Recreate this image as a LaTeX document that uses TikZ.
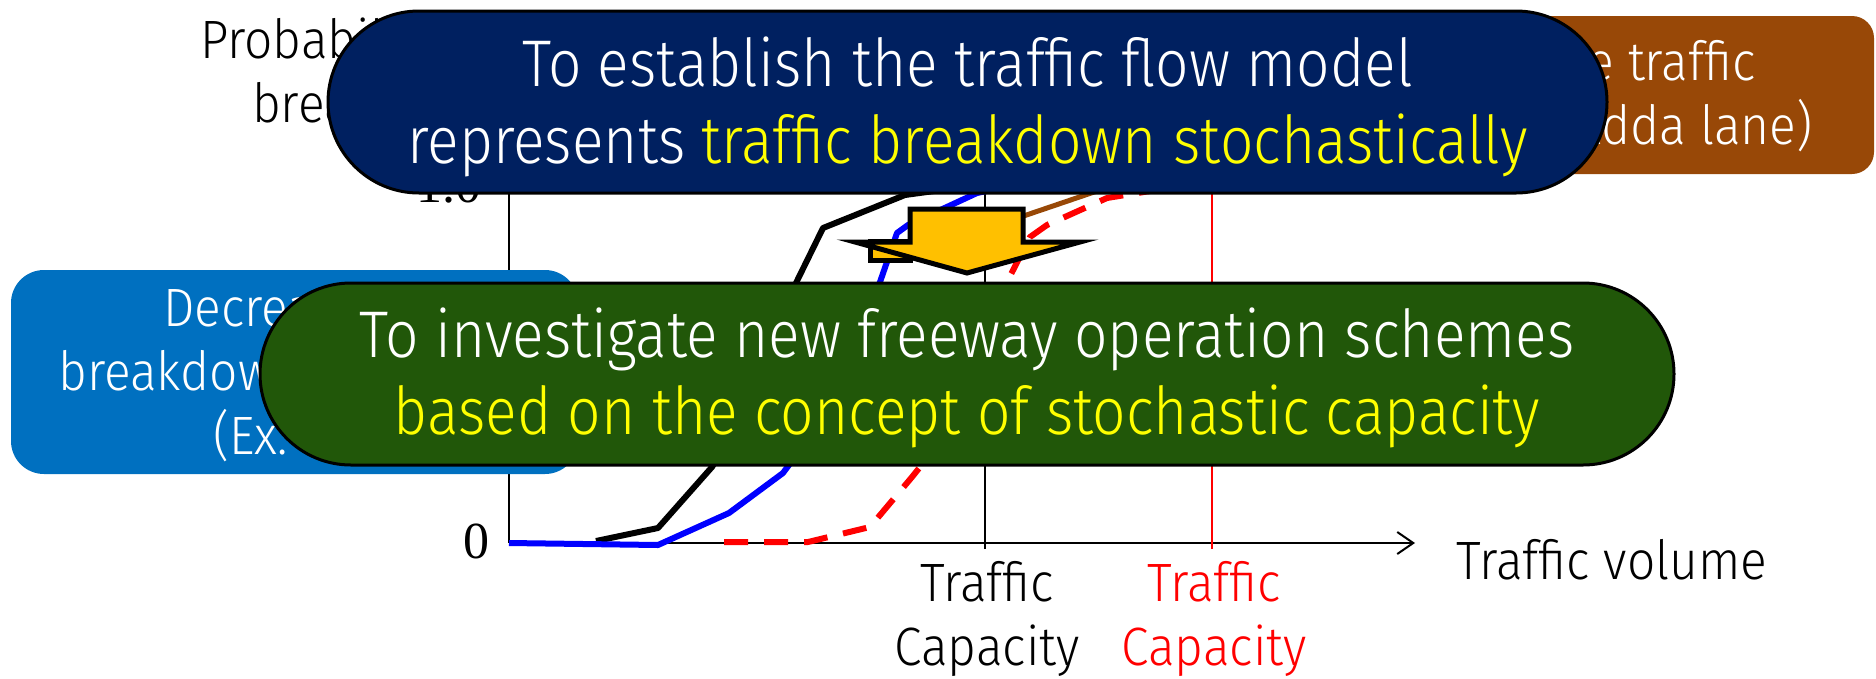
\documentclass[tikz,border=0pt]{standalone}
\usepackage{fontspec}
\setmainfont{Fira Sans Light}[FakeStretch=0.92]
\newfontfamily\bigfont{Fira Sans Light}[FakeStretch=0.89]
\newfontfamily\numfont{Liberation Serif}
\usetikzlibrary{arrows.meta}
\definecolor{navyc}{HTML}{002060}
\definecolor{greenc}{HTML}{215709}
\definecolor{lbluec}{HTML}{0070C0}
\definecolor{brownc}{HTML}{984807}
\definecolor{arrowc}{HTML}{FFC000}
\definecolor{ytxt}{HTML}{FFFF00}
\begin{document}
\begin{tikzpicture}[x=1pt,y=-1pt,
  bigtxt/.style={font=\bigfont\fontsize{66}{77}\selectfont},
  smalltxt/.style={font=\fontsize{54}{64}\selectfont},
  numtxt/.style={font=\numfont\fontsize{52}{60}\selectfont},
  pill/.style={draw=black, line width=3pt, rounded corners=91pt, inner sep=0pt,
    minimum height=182pt},
  pilltext/.style={inner sep=0pt, text=white, align=center, bigtxt},
  softbox/.style={inner sep=0pt},
  softtext/.style={inner sep=0pt, text=white, align=center, smalltxt},
  axisline/.style={line width=2pt, black},
  crv/.style={line width=6pt, line join=round},
  arrowshape/.style={fill=arrowc, draw=black, line width=5pt, line join=miter},
]
\useasboundingbox (0,0) rectangle (1876,678);
\fill[white] (0,0) rectangle (1876,678);

% axes and capacity lines
\coordinate (O) at (509,543);
\coordinate (Xe) at (1415,543);
\coordinate (Yt) at (509,120);
\draw[axisline] (O) -- (Yt);
\draw[axisline,-{Straight Barb[length=16pt,width=22pt]}] (O) -- (Xe);
\coordinate (k1b) at (985,549);
\coordinate (k1t) at (985,150);
\draw[axisline] (k1b) -- (k1t);
\coordinate (k2b) at (1212,549);
\coordinate (k2t) at (1212,150);
\draw[axisline, red] (k2b) -- (k2t);

% axis labels
\node[numtxt, anchor=base east, inner sep=0pt] (zero) at (490,558) {0};
\node[numtxt, anchor=base east, inner sep=0pt] (one) at (482,202) {1.0};
\node[smalltxt, align=right, anchor=east, inner sep=0pt] (ylab) at (496,70) {Probability of\\breakdown};
\node[smalltxt, anchor=base west, inner sep=0pt] (xlab) at (1456,579) {Traffic volume};
\node[smalltxt, align=center, inner sep=0pt] (cap1) at (987,619) {Traffic\\Capacity};
\node[smalltxt, align=center, inner sep=0pt, text=red] (cap2) at (1214,619) {Traffic\\Capacity};

% curves
\draw[crv, black] (596,541) -- (658,528) -- (712,467) -- (740,420) -- (796,283) -- (823,228) -- (905,195) -- (1000,182);
\draw[crv, blue] (509,543) -- (658,545) -- (729,513) -- (783,473) -- (800,450) -- (880,282) -- (897,233) -- (908,225) -- (977,193) -- (1030,182);
\draw[crv, red, dash pattern=on 24pt off 16pt] (724,542) -- (808,542) -- (870,527) -- (912,477) -- (924,462) -- (1007,282) -- (1030,237) -- (1047,225) -- (1107,198) -- (1150,191) -- (1230,182);

% brown callout line
\coordinate (bl1) at (1300,122);
\coordinate (bl2) at (1000,224);
\draw[brownc, line width=5pt] (bl1) -- (bl2);

% yellow arrow
\draw[arrowshape] (870,241) rectangle (910,260);
\draw[arrowshape] (910,209) -- (1023,209) -- (1023,242) -- (1080,242) -- (967,273) -- (855,242) -- (910,242) -- cycle;

% side boxes
\node[softbox, fill=lbluec, rounded corners=33pt, minimum width=567pt, minimum height=204pt] (lb) at (294.5,372) {};
\node[softtext] (lbt) at (306.5,374) {Decrease the\\breakdown probability\\(Ex. VSL)};
\node[softbox, fill=brownc, rounded corners=22pt, minimum width=618pt, minimum height=158pt] (br) at (1565,95) {};
\node[softtext] (brt) at (1549,98) {Increase the traffic\\capacity (Ex. Adda lane)};

% main boxes
\node[pill, fill=greenc, minimum width=1414pt] (gr) at (967,374) {};
\node[pilltext] (grt) at (967,378)
  {To investigate new freeway operation schemes\\\textcolor{ytxt}{based on the concept of stochastic capacity}};
\node[pill, fill=navyc, minimum width=1279pt] (nv) at (967.5,102) {};
\node[pilltext] (nvt) at (967.5,107)
  {To establish the traffic flow model\\represents \textcolor{ytxt}{traffic breakdown stochastically}};
\end{tikzpicture}
\end{document}
